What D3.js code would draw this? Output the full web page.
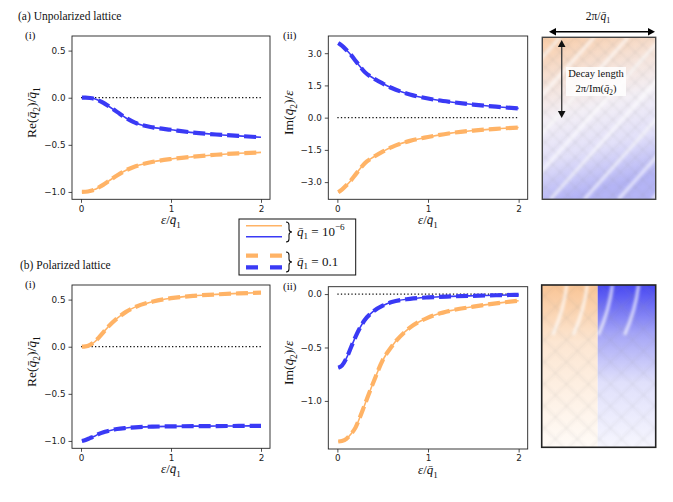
<!DOCTYPE html>
<html>
<head>
<meta charset="utf-8">
<script src="https://cdn.jsdelivr.net/npm/d3@7"></script>
<style>
  body { margin: 0; background: #fff; }
  .tick text { font-family: "DejaVu Sans", sans-serif; font-size: 8.8px; fill: #222; }
  .tick line { stroke: #222; stroke-width: 0.8; }
  .serif { font-family: "Liberation Serif", "DejaVu Serif", serif; fill: #111; }
</style>
</head>
<body>
<svg id="fig" width="673" height="502"></svg>
<script>
// x values: epsilon / q1
const eps = [0.01, 0.05, 0.1, 0.15, 0.2, 0.25, 0.3, 0.4, 0.5, 0.6, 0.8, 1.0, 1.25, 1.5, 1.75, 2.0];

// (a) unpolarized lattice, Re(q2)/q1
const reUnpolBlue   = [0, 0, -0.003, -0.012, -0.03, -0.055, -0.085, -0.15, -0.215, -0.265, -0.315, -0.34, -0.37, -0.39, -0.405, -0.42];
const reUnpolOrange = [-1.0, -0.998, -0.99, -0.975, -0.95, -0.922, -0.89, -0.825, -0.77, -0.73, -0.68, -0.65, -0.625, -0.605, -0.59, -0.58];
// (a) unpolarized lattice, Im(q2)/eps
const imUnpolBlue   = [3.47, 3.35, 3.15, 2.92, 2.65, 2.38, 2.13, 1.83, 1.59, 1.38, 1.08, 0.89, 0.73, 0.61, 0.51, 0.43];
const imUnpolOrange = [-3.47, -3.35, -3.15, -2.92, -2.65, -2.38, -2.13, -1.83, -1.58, -1.37, -1.08, -0.9, -0.72, -0.6, -0.52, -0.46];
// (b) polarized lattice, Re(q2)/q1
const rePolOrange = [0, 0.003, 0.02, 0.05, 0.1, 0.155, 0.21, 0.3, 0.37, 0.42, 0.48, 0.515, 0.54, 0.555, 0.566, 0.574];
const rePolBlue   = [-1.0, -0.99, -0.97, -0.95, -0.925, -0.908, -0.895, -0.873, -0.862, -0.855, -0.848, -0.845, -0.843, -0.842, -0.841, -0.84];
// (b) polarized lattice, Im(q2)/eps
const imPolBlue   = [-0.69, -0.67, -0.6, -0.5, -0.4, -0.315, -0.245, -0.16, -0.109, -0.075, -0.045, -0.031, -0.022, -0.016, -0.011, -0.007];
const imPolOrange = [-1.38, -1.375, -1.355, -1.31, -1.25, -1.15, -1.04, -0.82, -0.62, -0.49, -0.315, -0.22, -0.155, -0.118, -0.087, -0.062];

const xTicks = [0, 1, 2];
const reTicks = [-1.0, -0.5, 0.0, 0.5];
const imUnpolTicks = [-3.0, -1.5, 0.0, 1.5, 3.0];
const imPolTicks = [-1.0, -0.5, 0.0];

const BLUE = "#3a3af5";
const ORANGE = "#ffb366";

var svg = d3.select("#fig");

/**
 * Appends math-like text made of parts to a text selection.
 */
function mathText(sel, parts, size) {
  var shift = 0;
  parts.forEach(function(p) {
    var target = p.sub ? size * 0.28 : (p.sup ? -size * 0.45 : 0);
    var ts = sel.append("tspan").attr("dy", target - shift).text(p.t);
    shift = target;
    if (p.sub || p.sup) ts.attr("font-size", size * 0.7);
    if (p.i) ts.attr("font-style", "italic");
  });
}

const q = "q\u0304";
const reLabel = [{t: "Re("}, {t: q, i: true}, {t: "2", sub: true}, {t: ")/"}, {t: q, i: true}, {t: "1", sub: true}];
const imLabel = [{t: "Im("}, {t: q, i: true}, {t: "2", sub: true}, {t: ")/"}, {t: "ε", i: true}];
const xLabel = [{t: "ε", i: true}, {t: "/"}, {t: q, i: true}, {t: "1", sub: true}];

/**
 * Draws one line-plot panel.
 */
function panel(p) {
  var g = svg.append("g");
  var x = d3.scaleLinear().domain([-0.1, 2.1]).range([p.left, p.right]);
  var y = d3.scaleLinear().domain(p.ydom).range([p.bottom, p.top]);

  // zero reference
  g.append("line")
    .attr("x1", x(0)).attr("x2", x(2))
    .attr("y1", y(0)).attr("y2", y(0))
    .attr("stroke", "#111")
    .attr("stroke-width", 1.3)
    .attr("stroke-dasharray", "1.3,2.2");

  var line = d3.line()
    .x(function(d) { return x(d[0]); })
    .y(function(d) { return y(d[1]); })
    .curve(d3.curveMonotoneX);

  p.series.forEach(function(s) {
    var data = eps.map(function(e, i) { return [e, s.values[i]]; });
    g.append("path").datum(data)
      .attr("d", line)
      .attr("fill", "none")
      .attr("stroke", s.color)
      .attr("stroke-width", 4.2)
      .attr("stroke-dasharray", "12,5");
    g.append("path").datum(data)
      .attr("d", line)
      .attr("fill", "none")
      .attr("stroke", s.color)
      .attr("stroke-width", 1.6);
  });

  var xa = g.append("g")
    .attr("transform", "translate(0," + p.bottom + ")")
    .call(d3.axisBottom(x).tickValues(xTicks).tickSize(3.5).tickPadding(2.5).tickFormat(d3.format("d")));
  xa.select(".domain").remove();

  var ya = g.append("g")
    .attr("transform", "translate(" + p.left + ",0)")
    .call(d3.axisLeft(y).tickValues(p.yticks).tickSize(3.5).tickPadding(3).tickFormat(d3.format(".1f")));
  ya.select(".domain").remove();

  g.append("rect")
    .attr("x", p.left).attr("y", p.top)
    .attr("width", p.right - p.left).attr("height", p.bottom - p.top)
    .attr("fill", "none").attr("stroke", "#222").attr("stroke-width", 0.9);

  var cx = (p.left + p.right) / 2;
  var xl = g.append("text").attr("class", "serif")
    .attr("x", cx).attr("y", p.bottom + 25)
    .attr("text-anchor", "middle").style("font-size", "13px");
  mathText(xl, xLabel, 13);

  var cy = (p.top + p.bottom) / 2 - 5;
  var yl = g.append("text").attr("class", "serif")
    .attr("transform", "translate(" + (p.left - p.ylabOff) + "," + cy + ") rotate(-90)")
    .attr("text-anchor", "middle").style("font-size", "13.5px");
  mathText(yl, p.ylabel, 13.5);

  g.append("text").attr("class", "serif")
    .attr("x", p.tagX).attr("y", p.top + 3)
    .style("font-size", "11px")
    .text(p.tag);
}

panel({left: 72, right: 270, top: 36, bottom: 199.3, ydom: [-1.078, 0.655], yticks: reTicks,
  ylabel: reLabel, ylabOff: 36, tag: "(i)", tagX: 25,
  series: [{values: reUnpolBlue, color: BLUE}, {values: reUnpolOrange, color: ORANGE}]});
panel({left: 328.3, right: 527.7, top: 36, bottom: 199.3, ydom: [-3.8, 3.8], yticks: imUnpolTicks,
  ylabel: imLabel, ylabOff: 35, tag: "(ii)", tagX: 283,
  series: [{values: imUnpolBlue, color: BLUE}, {values: imUnpolOrange, color: ORANGE}]});
panel({left: 72, right: 270, top: 285, bottom: 448.3, ydom: [-1.078, 0.655], yticks: reTicks,
  ylabel: reLabel, ylabOff: 36, tag: "(i)", tagX: 25,
  series: [{values: rePolOrange, color: ORANGE}, {values: rePolBlue, color: BLUE}]});
panel({left: 328.3, right: 527.7, top: 286.7, bottom: 449, ydom: [-1.45, 0.069], yticks: imPolTicks,
  ylabel: imLabel, ylabOff: 35, tag: "(ii)", tagX: 283,
  series: [{values: imPolOrange, color: ORANGE}, {values: imPolBlue, color: BLUE}]});

// section titles
svg.append("text").attr("class", "serif").attr("x", 18).attr("y", 20)
  .style("font-size", "11.5px").text("(a) Unpolarized lattice");
svg.append("text").attr("class", "serif").attr("x", 20).attr("y", 269)
  .style("font-size", "11.5px").text("(b) Polarized lattice");

// legend
function brace(g, x0, y0, y1) {
  var ym = (y0 + y1) / 2, w = 3;
  g.append("path")
    .attr("d", "M" + x0 + "," + y0 + " Q" + (x0 + w) + "," + y0 + " " + (x0 + w) + "," + (y0 + 3) +
      " L" + (x0 + w) + "," + (ym - 3) + " Q" + (x0 + w) + "," + ym + " " + (x0 + 2 * w) + "," + ym +
      " Q" + (x0 + w) + "," + ym + " " + (x0 + w) + "," + (ym + 3) +
      " L" + (x0 + w) + "," + (y1 - 3) + " Q" + (x0 + w) + "," + y1 + " " + x0 + "," + y1)
    .attr("fill", "none").attr("stroke", "#111").attr("stroke-width", 1.1);
}

var leg = svg.append("g");
leg.append("rect").attr("x", 239).attr("y", 219).attr("width", 116.7).attr("height", 56)
  .attr("fill", "#fff").attr("stroke", "#111").attr("stroke-width", 1);
var legRows = [
  {y: 225.7, color: ORANGE, w: 1.6, dash: null},
  {y: 236.7, color: BLUE, w: 1.6, dash: null},
  {y: 255.7, color: ORANGE, w: 4.2, dash: "12,12"},
  {y: 267.3, color: BLUE, w: 4.2, dash: "12,12"}
];
legRows.forEach(function(r) {
  leg.append("line").attr("x1", 246).attr("x2", 282).attr("y1", r.y).attr("y2", r.y)
    .attr("stroke", r.color).attr("stroke-width", r.w).attr("stroke-dasharray", r.dash);
});
brace(leg, 286, 222, 242);
brace(leg, 286, 252, 272);
var l1 = leg.append("text").attr("class", "serif").attr("x", 297).attr("y", 235.5).style("font-size", "13px");
mathText(l1, [{t: q, i: true}, {t: "1", sub: true}, {t: " = 10"}, {t: "−6", sup: true}], 13);
var l2 = leg.append("text").attr("class", "serif").attr("x", 297).attr("y", 265.5).style("font-size", "13px");
mathText(l2, [{t: q, i: true}, {t: "1", sub: true}, {t: " = 0.1"}], 13);

// lattice illustrations
var defs = svg.append("defs");
defs.append("filter").attr("id", "soft").append("feGaussianBlur").attr("stdDeviation", 1.8);
defs.append("filter").attr("id", "haze").append("feGaussianBlur").attr("stdDeviation", 1.2);

var gradA = defs.append("linearGradient").attr("id", "gradA").attr("x1", 0).attr("y1", 0).attr("x2", 0.2).attr("y2", 1);
[["0", "#f9cda8"], ["0.3", "#f5e4dc"], ["0.5", "#f3eff6"], ["0.75", "#e2e0f9"], ["1", "#b4b4f5"]]
  .forEach(function(s) { gradA.append("stop").attr("offset", s[0]).attr("stop-color", s[1]); });
var gradO = defs.append("linearGradient").attr("id", "gradO").attr("x1", 0).attr("y1", 0).attr("x2", 0).attr("y2", 1);
[["0", "#f9c596"], ["0.35", "#fce6d2"], ["1", "#fffbf7"]]
  .forEach(function(s) { gradO.append("stop").attr("offset", s[0]).attr("stop-color", s[1]); });
var gradB = defs.append("linearGradient").attr("id", "gradB").attr("x1", 0).attr("y1", 0).attr("x2", 0).attr("y2", 1);
[["0", "#4848f2"], ["0.3", "#a5a5f6"], ["0.6", "#e0e0fb"], ["1", "#f6f6fe"]]
  .forEach(function(s) { gradB.append("stop").attr("offset", s[0]).attr("stop-color", s[1]); });

function hatch(g, x0, y0, w, h, step, op) {
  var hg = g.append("g").attr("filter", "url(#haze)");
  for (var k = -h; k < w + h; k += step) {
    hg.append("line").attr("x1", x0 + k).attr("y1", y0).attr("x2", x0 + k + h).attr("y2", y0 + h)
      .attr("stroke", "#8a8a8a").attr("stroke-opacity", op).attr("stroke-width", 2.5);
    hg.append("line").attr("x1", x0 + k).attr("y1", y0).attr("x2", x0 + k - h).attr("y2", y0 + h)
      .attr("stroke", "#8a8a8a").attr("stroke-opacity", op).attr("stroke-width", 2.5);
  }
}

// (a) image
var imA = {x: 542.3, y: 37.3, w: 113.4, h: 162};
defs.append("clipPath").attr("id", "clipA").append("rect")
  .attr("x", imA.x).attr("y", imA.y).attr("width", imA.w).attr("height", imA.h);
var ga = svg.append("g").attr("clip-path", "url(#clipA)");
ga.append("rect").attr("x", imA.x).attr("y", imA.y).attr("width", imA.w).attr("height", imA.h).attr("fill", "url(#gradA)");
hatch(ga, imA.x, imA.y, imA.w, imA.h, 15, 0.08);
var sa = ga.append("g").attr("filter", "url(#soft)");
for (var k = -imA.h; k < imA.w + 40; k += 34) {
  sa.append("line").attr("x1", imA.x + k).attr("y1", imA.y + imA.h).attr("x2", imA.x + k + imA.h * 0.9).attr("y2", imA.y)
    .attr("stroke", "#fff").attr("stroke-opacity", 0.6).attr("stroke-width", 3.5);
}
svg.append("rect").attr("x", imA.x).attr("y", imA.y).attr("width", imA.w).attr("height", imA.h)
  .attr("fill", "none").attr("stroke", "#444").attr("stroke-width", 1.4);

// arrows
function arrowHead(g, x, y, ang, color) {
  var L = 7, W = 3.8;
  var c = Math.cos(ang), s = Math.sin(ang);
  var p1 = [x - L * c + W * s, y - L * s - W * c];
  var p2 = [x - L * c - W * s, y - L * s + W * c];
  g.append("path").attr("d", "M" + x + "," + y + "L" + p1 + "L" + p2 + "Z").attr("fill", color);
}
var ar = svg.append("g");
ar.append("line").attr("x1", 553).attr("x2", 651).attr("y1", 31.7).attr("y2", 31.7).attr("stroke", "#000").attr("stroke-width", 1.4);
arrowHead(ar, 549, 31.7, Math.PI, "#000");
arrowHead(ar, 655, 31.7, 0, "#000");
ar.append("line").attr("x1", 561.7).attr("x2", 561.7).attr("y1", 44).attr("y2", 114).attr("stroke", "#444").attr("stroke-width", 1.4);
arrowHead(ar, 561.7, 40, -Math.PI / 2, "#111");
arrowHead(ar, 561.7, 118, Math.PI / 2, "#111");

var t1 = ar.append("text").attr("class", "serif").attr("x", 598).attr("y", 20).attr("text-anchor", "middle").style("font-size", "11.5px");
mathText(t1, [{t: "2π/"}, {t: q, i: true}, {t: "1", sub: true}], 11.5);
ar.append("rect").attr("x", 566).attr("y", 67).attr("width", 60).attr("height", 29).attr("fill", "#fff").attr("fill-opacity", 0.85);
ar.append("text").attr("class", "serif").attr("x", 596).attr("y", 77).attr("text-anchor", "middle")
  .style("font-size", "10.5px").text("Decay length");
var t2 = ar.append("text").attr("class", "serif").attr("x", 596).attr("y", 92).attr("text-anchor", "middle").style("font-size", "10.5px");
mathText(t2, [{t: "2π/Im("}, {t: q, i: true}, {t: "2", sub: true}, {t: ")"}], 10.5);

// (b) image
var imB = {x: 541.7, y: 285, w: 114, h: 162.3};
var midB = 597.7;
defs.append("clipPath").attr("id", "clipB").append("rect")
  .attr("x", imB.x).attr("y", imB.y).attr("width", imB.w).attr("height", imB.h);
var gb = svg.append("g").attr("clip-path", "url(#clipB)");
gb.append("rect").attr("x", imB.x).attr("y", imB.y).attr("width", midB - imB.x).attr("height", imB.h).attr("fill", "url(#gradO)");
gb.append("rect").attr("x", midB).attr("y", imB.y).attr("width", imB.x + imB.w - midB).attr("height", imB.h).attr("fill", "url(#gradB)");
hatch(gb, imB.x, imB.y, imB.w, imB.h, 22, 0.08);
var sb = gb.append("g").attr("filter", "url(#soft)");
[0.22, 0.4, 0.62, 0.85].forEach(function(f) {
  var x0 = imB.x + f * imB.w;
  sb.append("path")
    .attr("d", "M" + x0 + "," + imB.y + " Q" + (x0 - 3) + "," + (imB.y + 25) + " " + (x0 - 14) + "," + (imB.y + 50))
    .attr("fill", "none").attr("stroke", "#fff").attr("stroke-opacity", 0.75).attr("stroke-width", 3);
});
svg.append("rect").attr("x", imB.x).attr("y", imB.y).attr("width", imB.w).attr("height", imB.h)
  .attr("fill", "none").attr("stroke", "#222").attr("stroke-width", 1.6);
</script>
</body>
</html>
